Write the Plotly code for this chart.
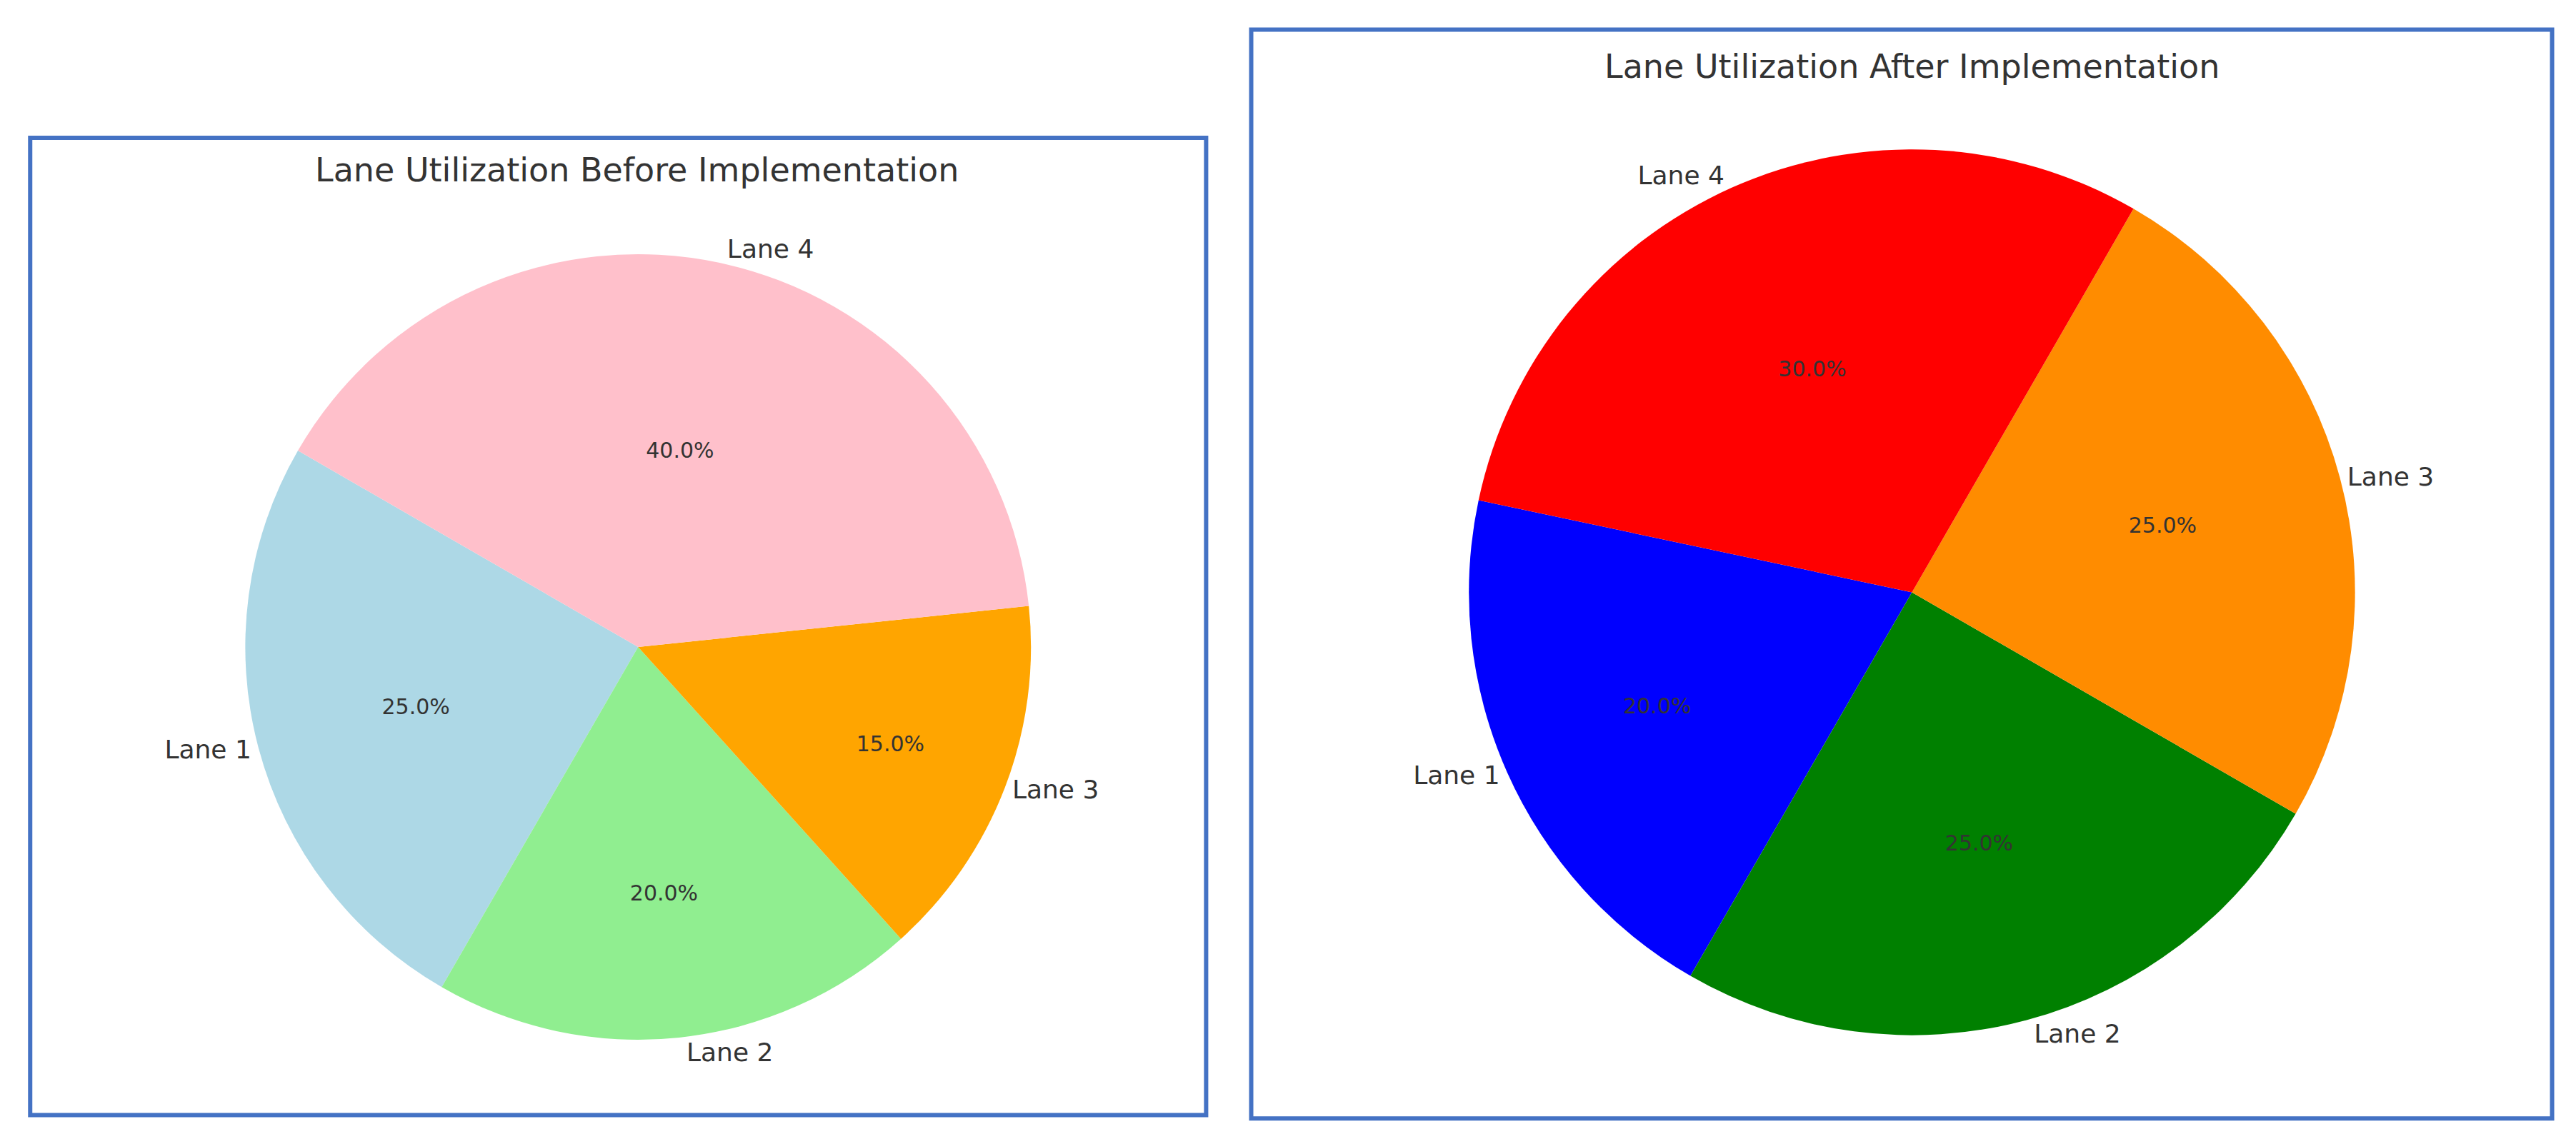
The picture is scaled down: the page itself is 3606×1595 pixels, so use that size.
import plotly.graph_objects as go

lanes = ["Lane 1", "Lane 2", "Lane 3", "Lane 4"]
before = [25, 20, 15, 40]
after = [20, 25, 25, 30]
colors_before = ["#ADD8E6", "#90EE90", "#FFA500", "#FFC0CB"]
colors_after = ["#0000FF", "#008000", "#FF8C00", "#FF0000"]

font = "DejaVu Sans"
grey = "#333333"

def pies(values, colors, dom):
    inner = go.Pie(labels=lanes, values=values, sort=False, direction="counterclockwise",
                   rotation=-150, domain=dom, marker=dict(colors=colors),
                   textinfo="percent", texttemplate="%{percent:.1%}", textposition="inside",
                   insidetextorientation="horizontal",
                   insidetextfont=dict(family=font, size=30, color=grey), showlegend=False)
    outer = go.Pie(labels=lanes, values=values, sort=False, direction="counterclockwise",
                   rotation=-150, domain=dom, marker=dict(colors=["rgba(0,0,0,0)"] * 4),
                   textinfo="label", textposition="outside", automargin=False,
                   outsidetextfont=dict(family=font, size=36, color=grey),
                   showlegend=False, hoverinfo="skip")
    return [inner, outer]

fig = go.Figure()
for t in pies(before, colors_before, dict(x=[0.093, 0.398], y=[0.092, 0.782])):
    fig.add_trace(t)
for t in pies(after, colors_after, dict(x=[0.568, 0.912], y=[0.096, 0.874])):
    fig.add_trace(t)

fig.update_layout(
    width=3606, height=1595, margin=dict(l=0, r=0, t=0, b=0),
    paper_bgcolor="white",
    annotations=[
        dict(text="Lane Utilization Before Implementation", x=0.245, y=0.856, xref="paper", yref="paper",
             xanchor="center", yanchor="middle",
             showarrow=False, font=dict(family=font, size=46, color=grey)),
        dict(text="Lane Utilization After Implementation", x=0.74, y=0.947, xref="paper", yref="paper",
             xanchor="center", yanchor="middle",
             showarrow=False, font=dict(family=font, size=46, color=grey)),
    ],
    shapes=[
        dict(type="rect", xref="paper", yref="paper", x0=0.0095, x1=0.466, y0=0.026, y1=0.884,
             line=dict(color="#4472C4", width=6)),
        dict(type="rect", xref="paper", yref="paper", x0=0.4835, x1=0.9885, y0=0.023, y1=0.979,
             line=dict(color="#4472C4", width=6)),
    ],
)

fig.write_html("out.html")
